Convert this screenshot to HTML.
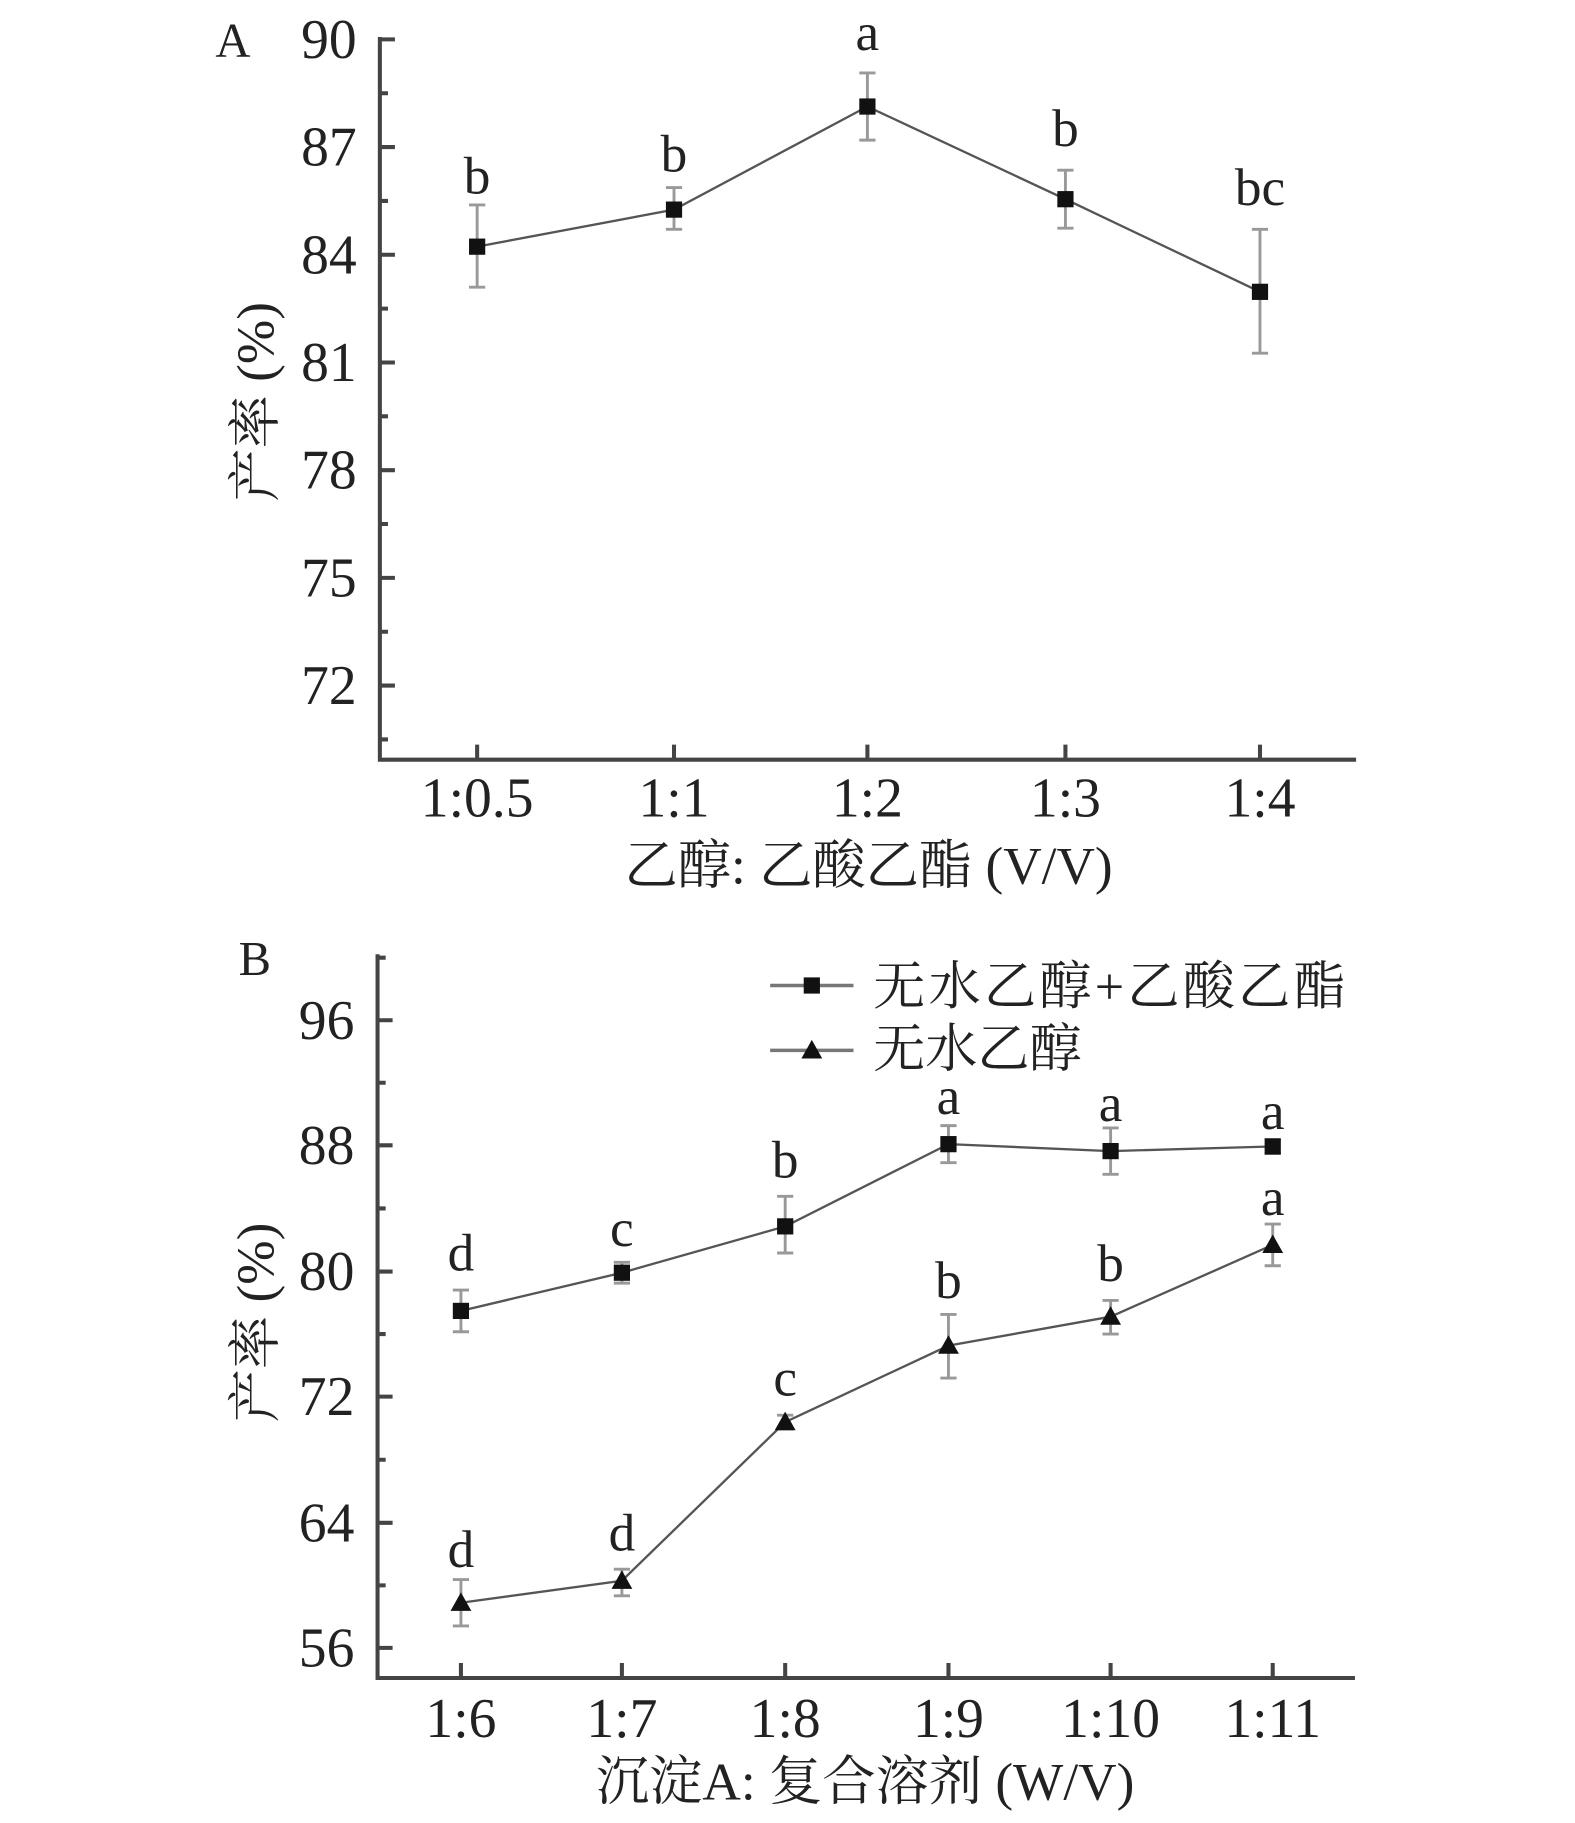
<!DOCTYPE html>
<html><head><meta charset="utf-8"><style>
html,body{margin:0;padding:0;background:#fff;}
svg{display:block;}
text{font-family:"Liberation Serif","Noto Serif CJK SC",serif;fill:#222;}
</style></head><body>
<svg width="1575" height="1823" viewBox="0 0 1360 1574.2" xmlns="http://www.w3.org/2000/svg">
<g transform="translate(2,2)">
<!-- Panel A -->
<g stroke="#444" stroke-width="3.5" fill="none">
<path d="M326 30 V654 H1169"/>
<path d="M326 32h13M326 125h13M326 218h13M326 311h13M326 404h13M326 497h13M326 590h13"/>
<path d="M326 78.5h7M326 171.5h7M326 264.5h7M326 357.5h7M326 450.5h7M326 543.5h7M326 636.5h7"/>
<path d="M410 654v-13M580 654v-13M747 654v-13M918 654v-13M1086 654v-13"/>
</g>
<g font-size="48" text-anchor="end">
<text x="306" y="48">90</text><text x="306" y="141">87</text><text x="306" y="234">84</text>
<text x="306" y="327">81</text><text x="306" y="420">78</text><text x="306" y="513">75</text><text x="306" y="606">72</text>
</g>
<text x="184" y="47" font-size="42">A</text>
<g font-size="48" text-anchor="middle">
<text x="410" y="703">1:0.5</text><text x="580" y="703">1:1</text><text x="747" y="703">1:2</text>
<text x="918" y="703">1:3</text><text x="1086" y="703">1:4</text>
</g>
<text x="748" y="761" font-size="46" text-anchor="middle">乙醇: 乙酸乙酯 (V/V)</text>
<text transform="translate(234,345) rotate(-90)" font-size="46" text-anchor="middle">产率 (%)</text>
<g stroke="#999" stroke-width="2.5">
<path d="M410 175V246M403 175h14M403 246h14"/>
<path d="M580 160V196M573 160h14M573 196h14"/>
<path d="M747 61V119M740 61h14M740 119h14"/>
<path d="M918 145V195M911 145h14M911 195h14"/>
<path d="M1086 196V303M1079 196h14M1079 303h14"/>
</g>
<polyline points="410,211 580,179 747,90 918,170 1086,250" fill="none" stroke="#555" stroke-width="2"/>
<g fill="#111">
<rect x="403" y="204" width="14" height="14"/><rect x="573" y="172" width="14" height="14"/>
<rect x="740" y="83" width="14" height="14"/><rect x="911" y="163" width="14" height="14"/>
<rect x="1079" y="243" width="14" height="14"/>
</g>
<g font-size="46" text-anchor="middle">
<text x="410" y="165">b</text><text x="580" y="146">b</text><text x="747" y="41">a</text>
<text x="918" y="124">b</text><text x="1086" y="175">bc</text>
</g>

<!-- Panel B -->
<g stroke="#444" stroke-width="3.5" fill="none">
<path d="M324 822 V1447 H1168"/>
<path d="M324 879h13M324 987h13M324 1096h13M324 1204h13M324 1313h13M324 1421h13"/>
<path d="M324 825h7M324 933h7M324 1041.5h7M324 1150h7M324 1258.5h7M324 1367h7"/>
<path d="M396 1447v-13M535 1447v-13M676 1447v-13M817 1447v-13M957 1447v-13M1097 1447v-13"/>
</g>
<g font-size="48" text-anchor="end">
<text x="304" y="895">96</text><text x="304" y="1003">88</text><text x="304" y="1112">80</text>
<text x="304" y="1220">72</text><text x="304" y="1329">64</text><text x="304" y="1437">56</text>
</g>
<text x="204" y="840" font-size="42">B</text>
<g font-size="48" text-anchor="middle">
<text x="396" y="1498">1:6</text><text x="535" y="1498">1:7</text><text x="676" y="1498">1:8</text>
<text x="817" y="1498">1:9</text><text x="957" y="1498">1:10</text><text x="1097" y="1498">1:11</text>
</g>
<text x="745" y="1552" font-size="46" text-anchor="middle">沉淀A: 复合溶剂 (W/V)</text>
<text transform="translate(234,1140) rotate(-90)" font-size="46" text-anchor="middle">产率 (%)</text>
<!-- legend -->
<g stroke="#777" stroke-width="3"><path d="M663 849H735M663 905H735"/></g>
<rect x="692" y="842" width="14" height="14" fill="#111"/>
<polygon points="699,896 708,912 690,912" fill="#111"/>
<text x="752" y="865" font-size="45" textLength="408">无水乙醇+乙酸乙酯</text>
<text x="752" y="919" font-size="45">无水乙醇</text>
<g stroke="#999" stroke-width="2.5">
<path d="M396 1112V1148M389 1112h14M389 1148h14"/>
<path d="M535 1088V1106M528 1088h14M528 1106h14"/>
<path d="M676 1031V1080M669 1031h14M669 1080h14"/>
<path d="M817 970V1002M810 970h14M810 1002h14"/>
<path d="M957 972V1012M950 972h14M950 1012h14"/>
<path d="M1097 982V994M1090 982h14M1090 994h14"/>
<path d="M396 1362V1402M389 1362h14M389 1402h14"/>
<path d="M535 1353V1376M528 1353h14M528 1376h14"/>
<path d="M676 1220V1232M669 1220h14M669 1232h14"/>
<path d="M817 1133V1188M810 1133h14M810 1188h14"/>
<path d="M957 1121V1150M950 1121h14M950 1150h14"/>
<path d="M1097 1055V1091M1090 1055h14M1090 1091h14"/>
</g>
<polyline points="396,1130 535,1097 676,1057 817,986 957,992 1097,988" fill="none" stroke="#555" stroke-width="2"/>
<polyline points="396,1382 535,1363 676,1226 817,1160 957,1135 1097,1073" fill="none" stroke="#555" stroke-width="2"/>
<g fill="#111">
<rect x="389" y="1123" width="14" height="14"/><rect x="528" y="1090" width="14" height="14"/>
<rect x="669" y="1050" width="14" height="14"/><rect x="810" y="979" width="14" height="14"/>
<rect x="950" y="985" width="14" height="14"/><rect x="1090" y="981" width="14" height="14"/>
<polygon points="396,1373 405,1389 387,1389"/><polygon points="535,1354 544,1370 526,1370"/>
<polygon points="676,1217 685,1233 667,1233"/><polygon points="817,1151 826,1167 808,1167"/>
<polygon points="957,1126 966,1142 948,1142"/><polygon points="1097,1064 1106,1080 1088,1080"/>
</g>
<g font-size="46" text-anchor="middle">
<text x="396" y="1095">d</text><text x="535" y="1074">c</text><text x="676" y="1015">b</text>
<text x="817" y="960">a</text><text x="957" y="966">a</text><text x="1097" y="973">a</text>
<text x="396" y="1351">d</text><text x="535" y="1337">d</text><text x="676" y="1203">c</text>
<text x="817" y="1119">b</text><text x="957" y="1104">b</text><text x="1097" y="1047">a</text>
</g>
</g>
</svg>
</body></html>
